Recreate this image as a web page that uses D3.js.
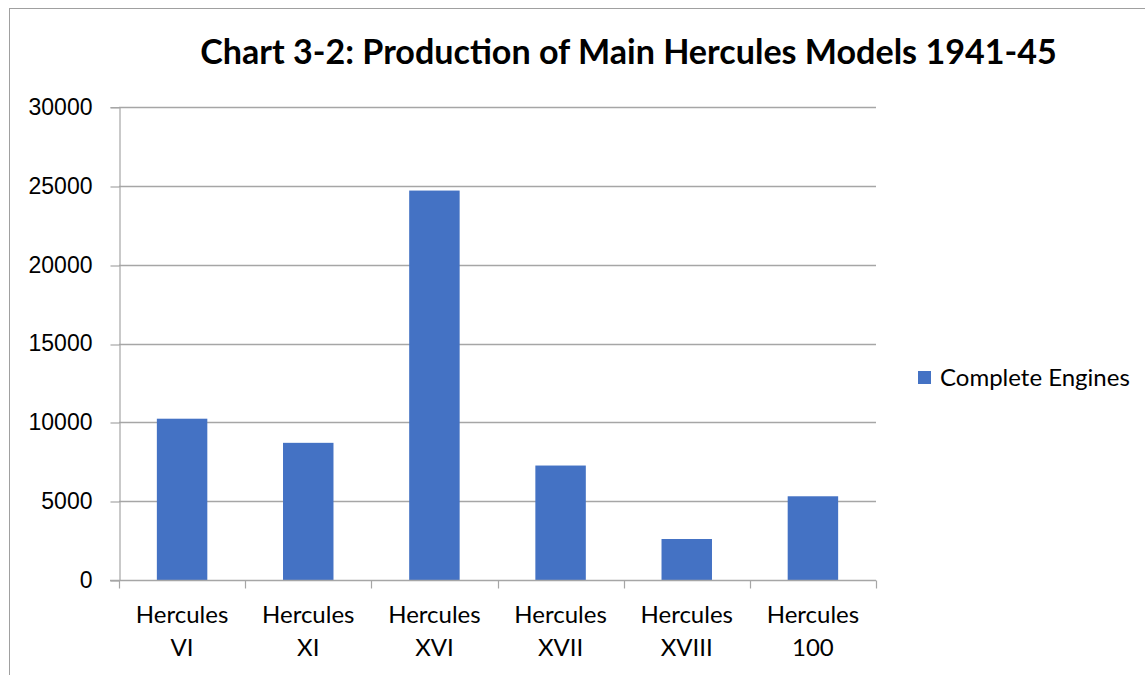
<!DOCTYPE html>
<html>
<head>
<meta charset="utf-8">
<script src="https://cdn.jsdelivr.net/npm/d3@7"></script>
<style>
  html, body { margin: 0; padding: 0; background: #fff; }
  svg { display: block; font-family: Lato, 'Open Sans', sans-serif; }
</style>
</head>
<body>
<div id="chart"></div>
<script>
// chart data
const categories = [['Hercules', 'VI'], ['Hercules', 'XI'], ['Hercules', 'XVI'],
  ['Hercules', 'XVII'], ['Hercules', 'XVIII'], ['Hercules', '100']];
const completeEngines = [10230, 8700, 24700, 7260, 2600, 5310];
const yTicks = [0, 5000, 10000, 15000, 20000, 25000, 30000];
const seriesName = 'Complete Engines';
const titleText = 'Chart 3-2: Production of Main Hercules Models 1941-45';

const width = 1145, height = 675;
const margin = { left: 119, right: 269, top: 107, bottom: 95 };
const barColor = '#4472C4';
const gridColor = '#a6a6a6';

const svg = d3.select('#chart').append('svg')
  .attr('width', width)
  .attr('height', height);

// outer chart border (runs off the right and bottom of the picture)
svg.append('rect')
  .attr('x', 9.5).attr('y', 8.5)
  .attr('width', width + 20).attr('height', height + 20)
  .attr('fill', 'none')
  .attr('stroke', '#a0a0a0');

const keys = categories.map(c => c.join(' '));
const x = d3.scaleBand().domain(keys).range([margin.left, width - margin.right]);
const y = d3.scaleLinear().domain([0, 30000]).range([height - margin.bottom, margin.top]);

// horizontal gridlines
svg.append('g')
  .selectAll('line')
  .data(yTicks.filter(d => d > 0))
  .enter().append('line')
  .attr('x1', margin.left).attr('x2', width - margin.right)
  .attr('y1', d => Math.round(y(d)) + 0.5).attr('y2', d => Math.round(y(d)) + 0.5)
  .attr('stroke', gridColor).attr('stroke-width', 1.5);

// y axis
const yAxis = svg.append('g')
  .attr('transform', `translate(${margin.left + 0.5},0)`)
  .call(d3.axisLeft(y).tickValues(yTicks).tickSize(9).tickPadding(18).tickFormat(d3.format('d')));
yAxis.select('.domain').attr('stroke', gridColor).attr('stroke-width', 1.2);
yAxis.selectAll('.tick line').attr('stroke', gridColor).attr('stroke-width', 1.2)
  .attr('transform', d => `translate(0,${Math.round(y(d)) + 0.5 - y(d)})`);
yAxis.selectAll('.tick text')
  .style('font-size', '23px').attr('fill', '#000');

// bars
const barW = x.bandwidth() * 0.4;
svg.append('g')
  .selectAll('rect')
  .data(completeEngines)
  .enter().append('rect')
  .attr('x', (d, i) => x(keys[i]) + (x.bandwidth() - barW) / 2)
  .attr('y', d => y(d))
  .attr('width', barW)
  .attr('height', d => y(0) - y(d))
  .attr('fill', barColor);

// x axis with ticks at category boundaries
const y0 = Math.round(y(0)) + 0.5;
const xg = svg.append('g');
xg.append('line')
  .attr('x1', margin.left - 9).attr('x2', width - margin.right)
  .attr('y1', y0).attr('y2', y0)
  .attr('stroke', gridColor).attr('stroke-width', 1.5);
const bounds = keys.map(k => x(k)).concat([x(keys[keys.length - 1]) + x.bandwidth()]);
xg.selectAll('.bt')
  .data(bounds)
  .enter().append('line')
  .attr('x1', d => Math.round(d) + 0.5).attr('x2', d => Math.round(d) + 0.5)
  .attr('y1', y0).attr('y2', y0 + 8)
  .attr('stroke', gridColor).attr('stroke-width', 1.2);

const labels = xg.selectAll('.lbl')
  .data(categories)
  .enter().append('text')
  .attr('text-anchor', 'middle')
  .style('font-size', '24px')
  .attr('fill', '#000');
labels.each(function (c, i) {
  const t = d3.select(this);
  c.forEach((line, j) => {
    t.append('tspan')
      .attr('x', x(keys[i]) + x.bandwidth() / 2)
      .attr('y', 623 + j * 33)
      .text(line);
  });
});

// title, fitted to the reference width
const title = svg.append('text')
  .attr('x', 628.5).attr('y', 64)
  .attr('text-anchor', 'middle')
  .style('font-weight', 'bold')
  .style('font-size', '31px')
  .attr('fill', '#000')
  .text(titleText);
const tw = title.node().getComputedTextLength();
title.style('font-size', (31 * 857 / tw).toFixed(2) + 'px');

// legend
const legend = svg.append('g').attr('transform', 'translate(918,371)');
legend.append('rect')
  .attr('width', 13).attr('height', 13)
  .attr('fill', barColor);
legend.append('text')
  .attr('x', 22).attr('y', 15)
  .style('font-size', '24px')
  .attr('fill', '#000')
  .text(seriesName);
</script>
</body>
</html>
